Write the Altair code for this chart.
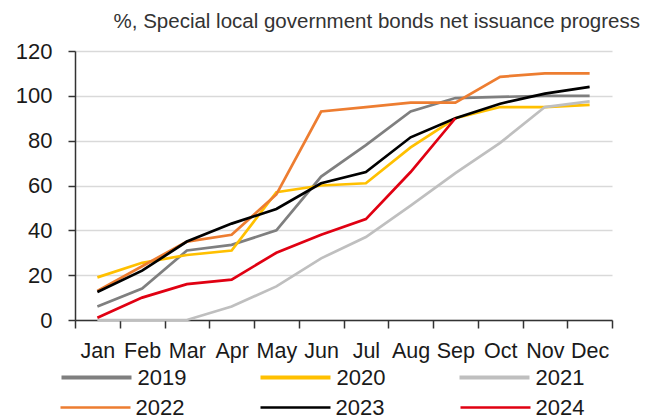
import altair as alt
import pandas as pd

FONT = "Liberation Sans"

months = ["Jan", "Feb", "Mar", "Apr", "May", "Jun", "Jul", "Aug", "Sep", "Oct", "Nov", "Dec"]
years = ["2019", "2020", "2021", "2022", "2023", "2024"]

s2019 = [6, 14, 31, 33.5, 40, 64, 78, 93, 99, 99.5, 100, 100]
s2020 = [19, 25.5, 29, 31, 57, 60, 61, 77, 90, 95, 95, 96]
s2021 = [0, 0, 0, 6, 15, 27.5, 37, 51, 65.5, 79, 95, 97.5]
s2022 = [13, 24, 35, 38, 56, 93, 95, 97, 97, 108.5, 110, 110]
s2023 = [12.5, 22, 35, 43, 49.5, 61, 66, 81.5, 90, 96.5, 101, 104]
s2024 = [1, 10, 16, 18, 30, 38, 45, 66, 90]

colors = ["#7f7f7f", "#ffc000", "#bfbfbf", "#ed7d31", "#000000", "#e00012"]

rows = []
for yr, vals in zip(years, [s2019, s2020, s2021, s2022, s2023, s2024]):
    for m, v in zip(months, vals):
        rows.append({"month": m, "year": yr, "value": v})
df = pd.DataFrame(rows)


def make_legend(y, stroke_w, col_pad):
    return alt.Legend(
        orient="none", legendX=-16, legendY=y, columns=3, direction="horizontal",
        title=None, symbolType="stroke", symbolSize=4900, clipHeight=26,
        symbolStrokeWidth=stroke_w, columnPadding=col_pad, labelFontSize=22,
        labelFont=FONT, labelOffset=3.5, labelColor="#1a1a1a", padding=0,
    )


x_enc = alt.X("month:N", sort=months, bandPosition=0.5,
              scale=alt.Scale(type="band", domain=months, paddingInner=0, paddingOuter=0),
              axis=alt.Axis(title=None, labelAngle=0, tickBand="extent", tickSize=8,
                            labelPadding=12, labelFontSize=21.5, labelFont=FONT,
                            labelColor="#1a1a1a", domainColor="#333333", tickColor="#333333",
                            domainWidth=1.5, tickWidth=1.5, grid=False))
y_enc = alt.Y("value:Q", scale=alt.Scale(domain=[0, 120], nice=False),
              axis=alt.Axis(title=None, values=[0, 20, 40, 60, 80, 100, 120], tickSize=7,
                            labelPadding=16, labelFontSize=22, labelFont=FONT,
                            labelColor="#1a1a1a", domainColor="#333333", tickColor="#333333",
                            domainWidth=1.5, tickWidth=1.5, gridColor="#d9d9d9", gridWidth=1.5))

first = years[:3]
second = years[3:]

lines_a = alt.Chart(df).transform_filter(
    alt.FieldOneOfPredicate(field="year", oneOf=first)
).mark_line(strokeWidth=2.7, strokeJoin="miter").encode(
    x=x_enc, y=y_enc,
    color=alt.Color("year:N", scale=alt.Scale(domain=first, range=colors[:3]),
                    legend=make_legend(313.5, 4.2, 71)),
)

lines_b = alt.Chart(df).transform_filter(
    alt.FieldOneOfPredicate(field="year", oneOf=second)
).mark_line(strokeWidth=2.7, strokeJoin="miter").encode(
    x=x_enc, y=y_enc,
    color=alt.Color("year:N", scale=alt.Scale(domain=second, range=colors[3:]),
                    legend=make_legend(343.5, 2.5, 74)),
    order=alt.Order("year:N"),
)

chart = alt.layer(lines_a, lines_b).resolve_scale(color="independent").resolve_legend(
    color="independent"
).properties(
    width=537, height=269,
    autosize=alt.AutoSizeParams(type="none"),
    padding={"left": 67, "top": 43, "right": 31, "bottom": 104},
    title=alt.TitleParams(
        text="%, Special local government bonds net issuance progress",
        anchor="end", frame="group", fontSize=20.5, font=FONT, fontWeight="normal",
        color="#333333", dx=28, offset=8,
    ),
).configure_view(stroke=None)

chart.save("out.html", embed_options={"renderer": "svg", "actions": False})
